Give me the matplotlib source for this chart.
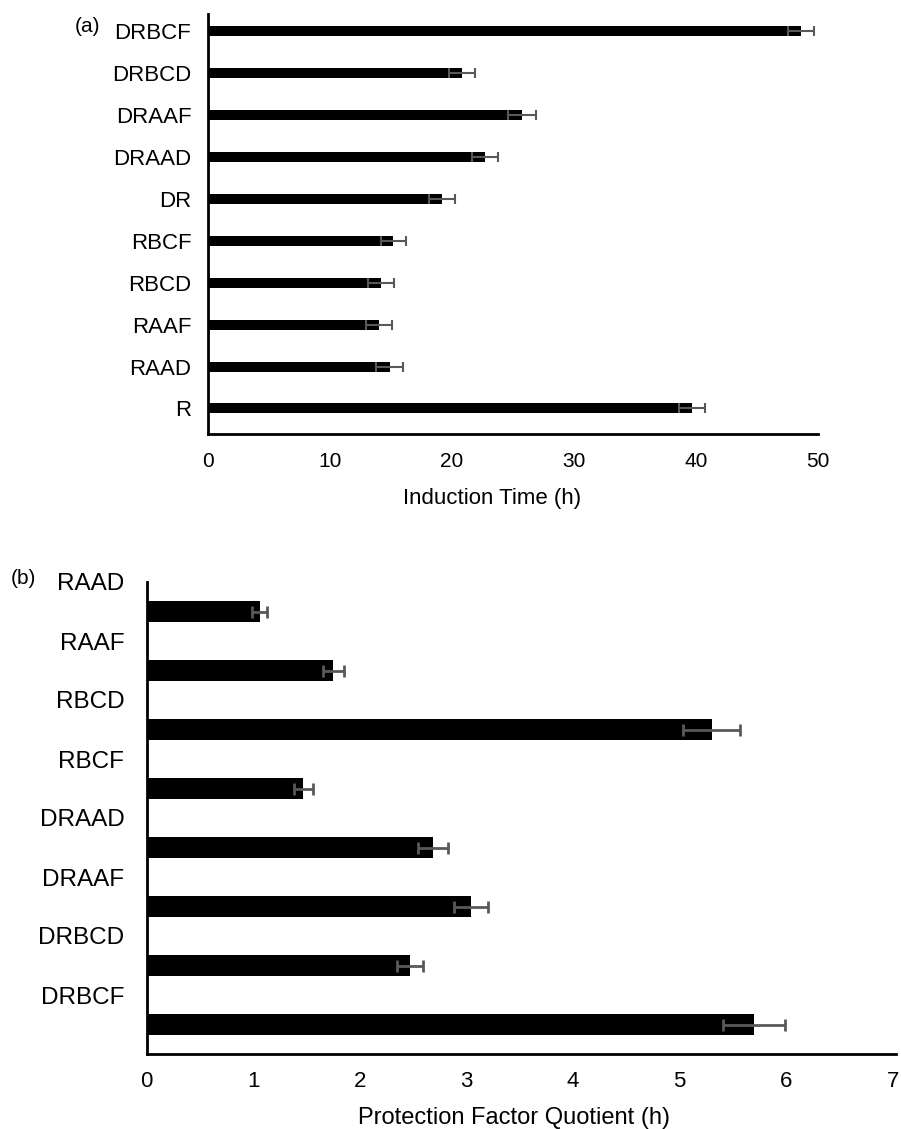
import numpy as np
import matplotlib
matplotlib.use("Agg")
import matplotlib.pyplot as plt

plt.rcParams['font.family'] = ['Liberation Sans', 'DejaVu Sans']

# panel (a), listed top to bottom
labels_a = ["DRBCF", "DRBCD", "DRAAF", "DRAAD", "DR", "RBCF", "RBCD", "RAAF", "RAAD", "R"]
induction = [48.6, 20.8, 25.7, 22.7, 19.2, 15.2, 14.2, 14.0, 14.9, 39.7]
induction_err = [1.1, 1.07, 1.15, 1.07, 1.07, 1.05, 1.07, 1.05, 1.1, 1.07]

# panel (b), listed top to bottom
labels_b = ["RAAD", "RAAF", "RBCD", "RBCF", "DRAAD", "DRAAF", "DRBCD", "DRBCF"]
pfq = [1.06, 1.75, 5.30, 1.47, 2.69, 3.04, 2.47, 5.70]
pfq_err = [0.07, 0.10, 0.27, 0.09, 0.14, 0.16, 0.12, 0.29]

W, H = 901, 1129
fig = plt.figure(figsize=(W / 100, H / 100), dpi=100)

def frac(l, t, r, b):
    return [l / W, 1 - b / H, (r - l) / W, (b - t) / H]

err_col = "#595959"

# ---- (a)
ax1 = fig.add_axes(frac(208, 14, 818, 434))
y1 = np.arange(len(labels_a))
ax1.barh(y1, induction, height=0.24, color="black",
         xerr=induction_err,
         error_kw=dict(ecolor=err_col, elinewidth=1.5, capsize=3.6, capthick=1.5))
ax1.set_ylim(len(labels_a) - 0.39, -0.415)
ax1.set_xlim(0, 50)
ax1.set_xticks(range(0, 51, 10))
ax1.set_yticks(y1)
ax1.set_yticklabels(labels_a, fontsize=16)
ax1.tick_params(axis="y", length=0, pad=12)
ax1.tick_params(axis="x", length=0, pad=13, labelsize=15)
for s in ["top", "right"]:
    ax1.spines[s].set_visible(False)
for s in ["left", "bottom"]:
    ax1.spines[s].set_linewidth(2)
ax1.text(0.466, -65 / 420, "Induction Time (h)", transform=ax1.transAxes,
         ha="center", va="center", fontsize=16)
fig.text(87 / W, 1 - 27 / H, "(a)", ha="center", va="center", fontsize=15)

# ---- (b)
ax2 = fig.add_axes(frac(146.7, 582, 896, 1054))
y2 = np.arange(len(labels_b))
ax2.barh(y2, pfq, height=0.355, color="black",
         xerr=pfq_err,
         error_kw=dict(ecolor=err_col, elinewidth=2, capsize=4.3, capthick=2))
ax2.set_ylim(len(labels_b) - 0.5, -0.5)
ax2.set_xlim(0, 7.03)
ax2.set_xticks(range(0, 8))
# category labels sit half a slot above their bars
ax2.set_yticks(y2 - 0.5)
ax2.set_yticklabels(labels_b, fontsize=17.5)
ax2.tick_params(axis="y", length=0, pad=16)
ax2.tick_params(axis="x", length=0, pad=12, labelsize=16)
for s in ["top", "right"]:
    ax2.spines[s].set_visible(False)
for s in ["left", "bottom"]:
    ax2.spines[s].set_linewidth(2)
ax2.text(0.49, -64 / 472, "Protection Factor Quotient (h)", transform=ax2.transAxes,
         ha="center", va="center", fontsize=17)
fig.text(23 / W, 1 - 579 / H, "(b)", ha="center", va="center", fontsize=15)

fig.savefig("out.png", dpi=100)
